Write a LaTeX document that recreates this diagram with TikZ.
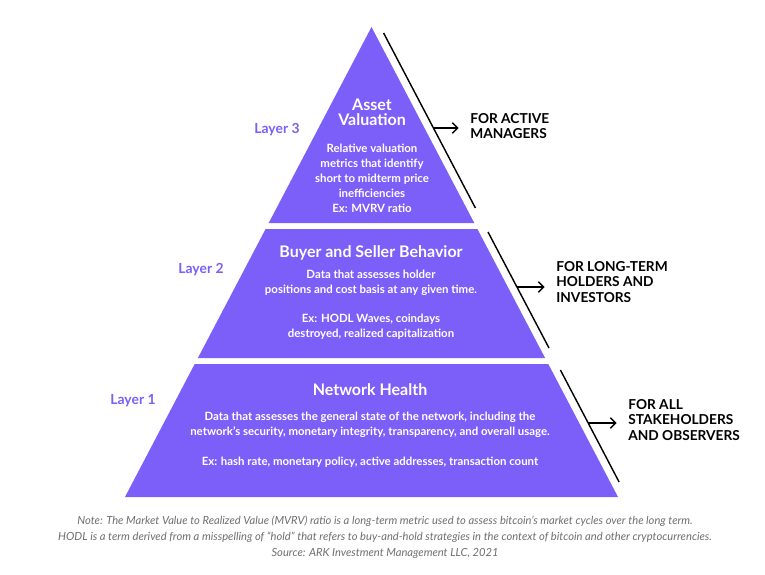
\documentclass[tikz,border=0pt]{standalone}
\usepackage{fontspec}
\setmainfont{Lato}
\usepackage{xcolor}
\usetikzlibrary{positioning,calc,arrows.meta}
\definecolor{arkpurple}{HTML}{7B5FF8}
\definecolor{notegray}{HTML}{6E6E6E}
\tikzset{
    layer/.style={fill=arkpurple, draw=none},
    ltitle/.style={text=white, font=\fontsize{9.1}{8.6}\bfseries\selectfont, align=center, inner sep=0},
    lbody/.style={text=white, font=\fontsize{6.5}{8.5}\bfseries\selectfont, align=center, inner sep=0},
    lname/.style={text=arkpurple, font=\fontsize{7.9}{9}\bfseries\selectfont, inner sep=0},
    side/.style={font=\fontsize{7.8}{8.8}\bfseries\selectfont, align=left, anchor=west, inner sep=0},
    bar/.style={thick, black},
    pointer/.style={thick, -{Straight Barb[length=3pt,width=6pt]}, shorten >=6.5pt}
}
\begin{document}
\begin{tikzpicture}[x=0.02cm, y=-0.02cm]
    \useasboundingbox (0,0) rectangle (765,575);
    % Layers
    \fill [layer] (371.5,27) -- (474.3,223) -- (268.7,223) -- cycle;
    \fill [layer] (265.6,229) -- (477.4,229) -- (545.1,358) -- (197.9,358) -- cycle;
    \fill [layer] (194.7,364) -- (548.3,364) -- (618,497) -- (125,497) -- cycle;
    % Layer texts
    \node [ltitle] (t3) at (372,112.5) {Asset\\Valuation};
    \node [lbody] (b3) at (372,178) {Relative valuation\\metrics that identify\\short to midterm price\\inefficiencies\\Ex: MVRV ratio};
    \node [ltitle] (t2) at (371,253) {Buyer and Seller Behavior};
    \node [lbody] (b2) at (371,282.5) {Data that assesses holder\\positions and cost basis at any given time.};
    \node [lbody] (e2) at (371,326.5) {Ex: HODL Waves, coindays\\destroyed, realized capitalization};
    \node [ltitle] (t1) at (370,390) {Network Health};
    \node [lbody] (b1) at (370,425) {Data that assesses the general state of the network, including the\\network’s security, monetary integrity, transparency, and overall usage.};
    \node [lbody] (e1) at (370,462) {Ex: hash rate, monetary policy, active addresses, transaction count};
    % Layer names
    \node [lname] (n3) at (277,130) {Layer 3};
    \node [lname] (n2) at (201,270) {Layer 2};
    \node [lname] (n1) at (133,401) {Layer 1};
    % Audiences
    \node [side] (a3) at (470,126) {FOR ACTIVE\\MANAGERS};
    \node [side] (a2) at (556,282) {FOR LONG-TERM\\HOLDERS AND\\INVESTORS};
    \node [side] (a1) at (628,420) {FOR ALL\\STAKEHOLDERS\\AND OBSERVERS};
    % Bars
    \coordinate (u3) at (383.6,33);  \coordinate (d3) at (475.4,208);
    \coordinate (u2) at (488,232);   \coordinate (d2) at (549,348);
    \coordinate (u1) at (560.4,370); \coordinate (d1) at (619.1,482);
    \draw [bar] (u3) -- (d3);
    \draw [bar] (u2) -- (d2);
    \draw [bar] (u1) -- (d1);
    % Pointers
    \coordinate (s3) at (433.5,128);
    \coordinate (s2) at (516.9,287);
    \coordinate (s1) at (588.2,423);
    \draw [pointer] (s3) -- (s3 -| a3.west);
    \draw [pointer] (s2) -- (s2 -| a2.west);
    \draw [pointer] (s1) -- (s1 -| a1.west);
    % Note
    \node [text=notegray, font=\fontsize{6.35}{9}\itshape\selectfont, align=center, inner sep=0] (note) at (385,537)
        {Note: The Market Value to Realized Value (MVRV) ratio is a long-term metric used to assess bitcoin’s market cycles over the long term.\\
         HODL is a term derived from a misspelling of “hold” that refers to buy-and-hold strategies in the context of bitcoin and other cryptocurrencies.\\
         Source: ARK Investment Management LLC, 2021};
\end{tikzpicture}
\end{document}
